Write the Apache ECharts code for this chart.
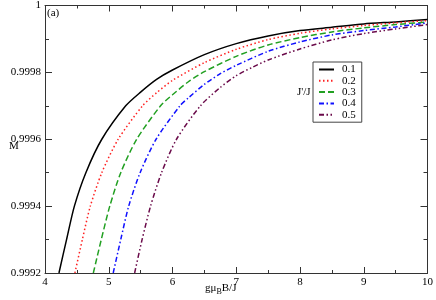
<!DOCTYPE html>
<html><head><meta charset="utf-8">
<script src="https://cdn.jsdelivr.net/npm/echarts@6/dist/echarts.min.js"></script>
<style>html,body{margin:0;padding:0;background:#fff}#c{width:436px;height:300px}</style>
</head><body><div id="c"></div>
<script>
// Data: [g mu_B B / J, M]
const names = ['0.1', '0.2', '0.3', '0.4', '0.5'];
const s01 = [[4.219,0.9992],[4.338,0.9993],[4.461,0.9994],[4.641,0.9995],[4.891,0.9996],[5.266,0.9997],[5.5,0.999741],[5.75,0.999779],[6.0,0.999807],[6.5,0.999853],[7.0,0.999886],[7.5,0.999909],[8.0,0.999925],[8.5,0.999935],[9.0,0.999945],[9.5,0.999951],[10,0.999958]];
const s02 = [[4.469,0.9992],[4.586,0.9993],[4.711,0.9994],[4.891,0.9995],[5.148,0.9996],[5.531,0.9997],[5.75,0.999739],[6.0,0.999776],[6.5,0.999829],[7.0,0.999869],[7.5,0.999898],[8.0,0.999917],[8.5,0.999930],[9.0,0.999940],[9.5,0.999948],[10,0.999955]];
const s03 = [[4.758,0.9992],[4.883,0.9993],[5.016,0.9994],[5.188,0.9995],[5.438,0.9996],[5.813,0.9997],[6.0,0.999733],[6.25,0.999772],[6.5,0.999802],[7.0,0.999848],[7.5,0.999882],[8.0,0.999904],[8.5,0.999921],[9.0,0.999933],[9.5,0.999943],[10,0.999951]];
const s04 = [[5.070,0.9992],[5.188,0.9993],[5.313,0.9994],[5.492,0.9995],[5.742,0.9996],[6.117,0.9997],[6.25,0.999724],[6.5,0.999764],[6.75,0.999796],[7.0,0.999821],[7.5,0.999863],[8.0,0.999891],[8.5,0.999912],[9.0,0.999925],[9.5,0.999936],[10,0.999948]];
const s05 = [[5.406,0.9992],[5.523,0.9993],[5.656,0.9994],[5.828,0.9995],[6.063,0.9996],[6.438,0.9997],[6.75,0.999755],[7.0,0.999790],[7.25,0.999815],[7.5,0.999837],[8.0,0.999870],[8.5,0.999897],[9.0,0.999916],[9.5,0.999930],[10,0.999943]];
const seriesData = [s01, s02, s03, s04, s05];
const colors = ['#000000', '#ff2020', '#22a022', '#1010ff', '#6a0a4a'];
const dashes = ['solid', [1.5, 2.5], [6, 3], [5, 2.5, 1.5, 2.5], [5, 2.5, 1.5, 2.5, 1.5, 2.5]];

const FONT = '"Liberation Serif", "Times New Roman", serif';
const axisCol = '#333';
const chart = echarts.init(document.getElementById('c'), null, {renderer: 'canvas'});
const fmtY = v => String(Math.round(v * 10000) / 10000);
const baseX = {
  type: 'value', min: 4, max: 10, interval: 1,
  axisLine: {show: true, lineStyle: {color: axisCol, width: 1}},
  axisTick: {show: true, inside: true, length: 6, lineStyle: {color: axisCol}},
  minorTick: {show: true, splitNumber: 2, length: 3, lineStyle: {color: axisCol}},
  splitLine: {show: false}, minorSplitLine: {show: false}
};
const baseY = {
  type: 'value', min: 0.9992, max: 1, interval: 0.0002,
  axisLine: {show: true, lineStyle: {color: axisCol, width: 1}},
  axisTick: {show: true, inside: true, length: 7, lineStyle: {color: axisCol}},
  minorTick: {show: true, splitNumber: 2, length: 4, lineStyle: {color: axisCol}},
  splitLine: {show: false}, minorSplitLine: {show: false}
};
chart.setOption({
  animation: false,
  textStyle: {fontFamily: FONT},
  grid: {left: 45, right: 7, top: 5, bottom: 27, containLabel: false},
  xAxis: [
    Object.assign({}, baseX, {position: 'bottom',
      axisLabel: {show: true, margin: 4, color: '#000', fontFamily: FONT, fontSize: 11}}),
    Object.assign({}, baseX, {position: 'top', axisLabel: {show: false}})
  ],
  yAxis: [
    Object.assign({}, baseY, {position: 'left',
      axisLabel: {show: true, margin: 4, color: '#000', fontFamily: FONT, fontSize: 11, formatter: fmtY}}),
    Object.assign({}, baseY, {position: 'right', axisLabel: {show: false}})
  ],
  legend: {
    orient: 'vertical', left: 313, top: 62,
    data: names,
    itemWidth: 15, itemHeight: 11, itemGap: 0.3,
    padding: [2, 6, 2, 5],
    borderColor: '#444', borderWidth: 1, backgroundColor: '#fff',
    itemStyle: {opacity: 0},
    textStyle: {fontFamily: FONT, fontSize: 11, color: '#000', lineHeight: 11, padding: [0, 0, 0, 3]}
  },
  series: names.map((n, i) => ({
    name: n, type: 'line', xAxisIndex: 0, yAxisIndex: 0,
    data: seriesData[i], smooth: 0.25, symbol: 'none', showSymbol: false,
    lineStyle: {color: colors[i], width: 1.5, type: dashes[i]},
    itemStyle: {color: colors[i]}
  })),
  graphic: [
    {type: 'text', left: 47, top: 8, style: {text: '(a)', font: '11px "Liberation Serif", serif', fill: '#000'}},
    {type: 'text', left: 9, top: 141, style: {text: 'M', font: '11px "Liberation Serif", serif', fill: '#000'}},
    {type: 'text', left: 297, top: 87, style: {text: "J'/J", font: '11px "Liberation Serif", serif', fill: '#000'}},
    {type: 'text', left: 205, top: 283, style: {
      rich: {
        a: {fontFamily: FONT, fontSize: 11, fill: '#000'},
        s: {fontFamily: FONT, fontSize: 8, fill: '#000', padding: [6, 0, 0, 0]}
      },
      text: '{a|gμ}{s|B}{a|B/J}'
    }}
  ]
});
</script></body></html>
